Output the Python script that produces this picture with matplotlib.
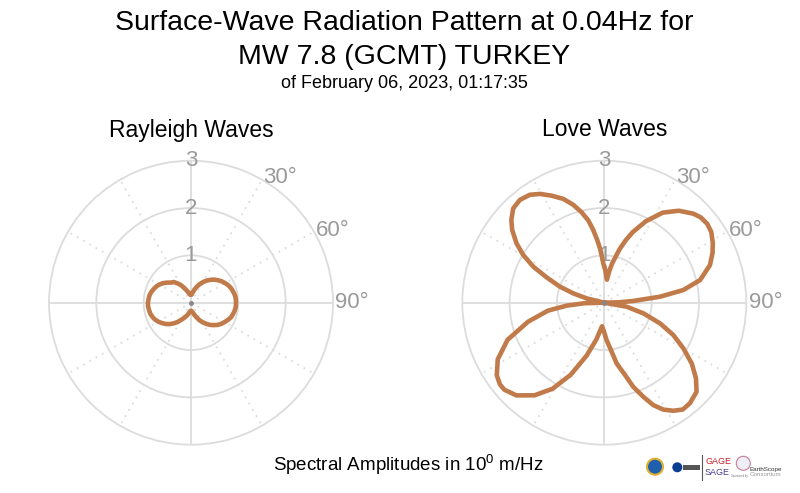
import numpy as np
import matplotlib
matplotlib.use('Agg')
import matplotlib.pyplot as plt
from matplotlib.patches import Ellipse, Rectangle

plt.rcParams['font.family'] = ['Liberation Sans', 'DejaVu Sans']
plt.rcParams['mathtext.fontset'] = 'custom'
plt.rcParams['mathtext.rm'] = 'Liberation Sans'
plt.rcParams['mathtext.it'] = 'Liberation Sans'

# azimuth in degrees (clockwise from north)
rayleigh_az = list(range(0, 360, 5))
rayleigh_amp = [0.17, 0.18, 0.23, 0.29, 0.36, 0.43, 0.50, 0.57, 0.63, 0.69,
                0.74, 0.79, 0.83, 0.87, 0.90, 0.92, 0.94, 0.95, 0.95, 0.95,
                0.94, 0.92, 0.90, 0.86, 0.82, 0.78, 0.73, 0.67, 0.61, 0.54,
                0.47, 0.40, 0.32, 0.26, 0.21, 0.18, 0.17, 0.18, 0.21, 0.26,
                0.31, 0.36, 0.42, 0.50, 0.57, 0.64, 0.70, 0.75, 0.80, 0.84,
                0.87, 0.89, 0.90, 0.91, 0.91, 0.90, 0.89, 0.87, 0.84, 0.81,
                0.77, 0.72, 0.66, 0.60, 0.57, 0.50, 0.43, 0.35, 0.28, 0.23,
                0.19, 0.17]

love_az = [0, 2, 4, 6.5, 9, 11.5, 16, 19, 22, 27,
           33, 39, 45, 48.5, 52.5, 56.5, 61, 65.2, 70.4, 76.7,
           80.9, 83.9, 86.6, 88.5, 91,
           100.2, 105.3, 110.4, 115.1, 120, 124.8, 129.5, 134,
           139.6, 143.7, 147.4, 151.1, 154.4, 157.5, 161, 164, 168.5,
           172, 176.5, 180.7, 185.5, 192.3, 198.5, 205, 211, 217, 223.5,
           229, 232, 236, 242, 249, 256, 262, 265.5, 268.5, 271,
           283.7, 286.7, 289.9, 293.7, 296.9, 300.5, 304.1, 308.3, 311.7, 316,
           320.6, 325.4, 329.4, 333.8, 338.4, 342.4, 345.9, 349, 351.4, 353.6,
           355.5, 357.1, 358.5]
love_amp = [0.76, 0.68, 0.57, 0.49, 0.68, 0.86, 1.18, 1.40, 1.61, 1.93,
            2.27, 2.50, 2.66, 2.72, 2.74, 2.71, 2.62, 2.52, 2.37, 2.08,
            1.69, 1.18, 0.61, 0.30, 0.00,
            0.48, 0.86, 1.26, 1.61, 1.93, 2.25, 2.51, 2.71,
            2.79, 2.80, 2.71, 2.58, 2.40, 2.15, 1.88, 1.59, 1.31,
            1.01, 0.79, 0.61, 0.50, 0.80, 1.18, 1.68, 2.12, 2.45, 2.70,
            2.80, 2.80, 2.74, 2.55, 2.19, 1.66, 1.20, 0.80, 0.42, 0.00,
            0.38, 0.68, 1.00, 1.33, 1.68, 1.99, 2.24, 2.48, 2.63, 2.77,
            2.81, 2.77, 2.67, 2.52, 2.36, 2.17, 1.97, 1.77, 1.55, 1.33,
            1.15, 0.97, 0.83]

rticks = [1, 2, 3]
angle_labels = [30, 60, 90]

curve_color = '#c17a49'
grid_color = '#dcdcdc'
label_color = '#9a9a9a'

W, H = 800, 493
fig = plt.figure(figsize=(8, 4.93), dpi=100)


def polar_panel(rect, az, amp, title):
    ax = fig.add_axes(rect, projection='polar')
    ax.set_theta_zero_location('N')
    ax.set_theta_direction(-1)
    ax.set_ylim(0, 3)
    ax.set_rticks([1, 2])
    ax.set_yticklabels([])
    ax.set_xticks(np.radians([0, 90, 180, 270]))
    ax.set_xticklabels([])
    ax.tick_params(length=0)
    ax.grid(True, color=grid_color, lw=1.3)
    ax.spines['polar'].set_color(grid_color)
    ax.spines['polar'].set_linewidth(1.3)
    for a in range(30, 360, 30):
        if a % 90 != 0:
            ax.plot([np.radians(a)] * 2, [0, 3], color=grid_color, lw=1.3,
                    ls=(0, (1, 3)), zorder=1)
    th = np.radians(list(az) + [az[0] + 360])
    rr = list(amp) + [amp[0]]
    ax.plot(th, rr, color=curve_color, lw=3.3, zorder=4,
            solid_joinstyle='round', solid_capstyle='round')
    ax.plot([0], [0], 'o', color='#888888', ms=2.5, zorder=5)
    for r in rticks:
        ax.text(0, r, str(r), ha='center', va='center', fontsize=16,
                color=label_color, zorder=3)
    for a in angle_labels:
        ax.text(np.radians(a), 3.05, '%d°' % a, ha='left', va='center',
                fontsize=16, color=label_color)
    fig.text(rect[0] + rect[2] / 2, 1 - 130 / H, title, ha='center',
             va='center', fontsize=16.5)
    return ax


polar_panel([49 / W, 1 - 444.7 / H, 284 / W, 284 / H], rayleigh_az, rayleigh_amp, 'Rayleigh Waves')
polar_panel([462.3 / W, 1 - 444.7 / H, 284 / W, 284 / H], love_az, love_amp, 'Love Waves')

fig.text(0.505, 1 - 23 / H, 'Surface-Wave Radiation Pattern at 0.04Hz for',
         ha='center', va='center', fontsize=20.5)
fig.text(0.505, 1 - 57 / H, 'MW 7.8 (GCMT) TURKEY', ha='center', va='center', fontsize=20.5)
fig.text(0.505, 1 - 84 / H, 'of February 06, 2023, 01:17:35', ha='center',
         va='center', fontsize=13)
fig.text(408 / W, 1 - 465 / H, 'Spectral Amplitudes in $\\mathregular{10^0}$ m/Hz',
         ha='center', va='center', fontsize=13.5)


# small logo strip, bottom right
def dot(x, y, r, **kw):
    fig.patches.append(Ellipse((x / W, 1 - y / H), 2 * r / W, 2 * r / H,
                               transform=fig.transFigure, **kw))


dot(655, 466.7, 8, facecolor='#1f5fae', edgecolor='#e0b030', lw=1.5)
dot(677.3, 467.3, 5, facecolor='#0b3d91', edgecolor='none')
fig.patches.append(Rectangle((683 / W, 1 - 470 / H), 17 / W, 5 / H, transform=fig.transFigure,
                             facecolor='#555555', edgecolor='none'))
fig.lines.append(plt.Line2D([701.7 / W] * 2, [1 - 455 / H, 1 - 480 / H],
                            transform=fig.transFigure, color='#555555', lw=0.8))
fig.text(705 / W, 1 - 461.5 / H, 'GAGE', color='#c0202a', fontsize=6.5, va='center')
fig.text(705 / W, 1 - 472.5 / H, 'SAGE', color='#4b3a8c', fontsize=6.5, va='center')
fig.text(731 / W, 1 - 476 / H, 'Sponsored by', color='#777777', fontsize=2, va='center')
dot(743.3, 463.3, 7, facecolor='#eeeef4', edgecolor='#c77d9a', lw=0.8)
fig.text(750 / W, 1 - 469.5 / H, 'EarthScope', color='#333333', fontsize=4.5, va='center')
fig.text(750 / W, 1 - 474.5 / H, 'Consortium', color='#999999', fontsize=4.5, va='center')

fig.savefig('out.png', dpi=100)
